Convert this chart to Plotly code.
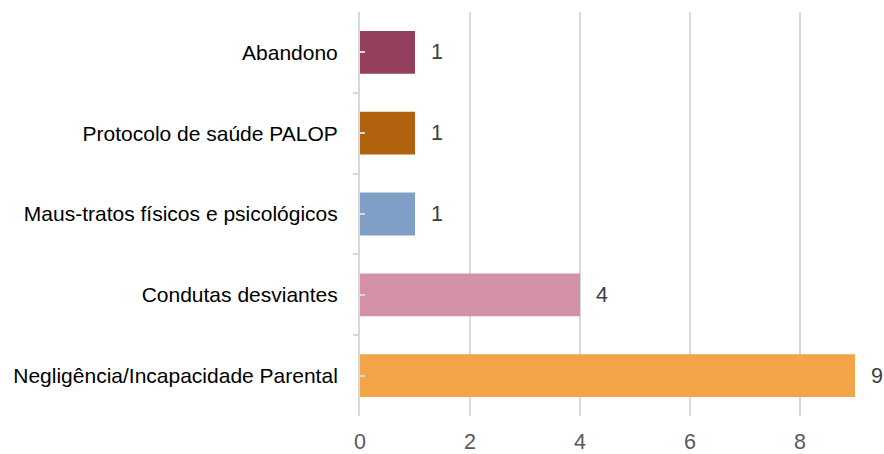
import plotly.graph_objects as go

categories = ["Negligência/Incapacidade Parental", "Condutas desviantes",
              "Maus-tratos físicos e psicológicos", "Protocolo de saúde PALOP", "Abandono"]
values = [9, 4, 1, 1, 1]
colors = ["#F2A546", "#D291A7", "#7F9FC6", "#B0620F", "#953F5F"]
x_ticks = [0, 2, 4, 6, 8]

pos = list(range(len(categories)))

fig = go.Figure()
fig.add_trace(go.Bar(
    x=values, y=pos, orientation="h", width=0.53,
    marker=dict(color=colors, line=dict(width=0)),
    hoverinfo="skip", showlegend=False,
))

for v, p in zip(values, pos):
    fig.add_annotation(x=v, y=p, text=str(v), showarrow=False,
                       xanchor="left", yanchor="middle", xshift=14,
                       font=dict(family="Liberation Sans, Arial", size=21.5, color="#404040"))

fig.update_layout(
    width=884, height=454,
    margin=dict(l=360, r=29, t=12, b=38, autoexpand=False),
    paper_bgcolor="white", plot_bgcolor="white",
    xaxis=dict(range=[0, 9], tickvals=x_ticks, showgrid=True, gridcolor="#D9D9D9",
               gridwidth=1.5, zeroline=False, showline=False, ticks="", automargin=False,
               tickfont=dict(family="Liberation Sans, Arial", size=21.5, color="#595959"),
               ticklabelstandoff=10),
    yaxis=dict(range=[-0.5, 4.5], tickvals=pos, ticktext=categories, automargin=False,
               showgrid=False, zeroline=False, showline=True, linecolor="#D9D9D9",
               linewidth=2, ticks="inside", ticklen=5, tickcolor="#D9D9D9", tickwidth=1.5,
               minor=dict(tickvals=[p - 0.5 for p in pos] + [pos[-1] + 0.5], ticks="outside",
                          ticklen=5, tickcolor="#D9D9D9", tickwidth=2, showgrid=False),
               tickfont=dict(family="Liberation Sans, Arial", size=21, color="#000000"),
               ticklabelstandoff=16),
)

fig.write_html("out.html", config={"displayModeBar": False},
               post_script="document.body.style.margin='0';document.body.style.overflow='hidden';")
